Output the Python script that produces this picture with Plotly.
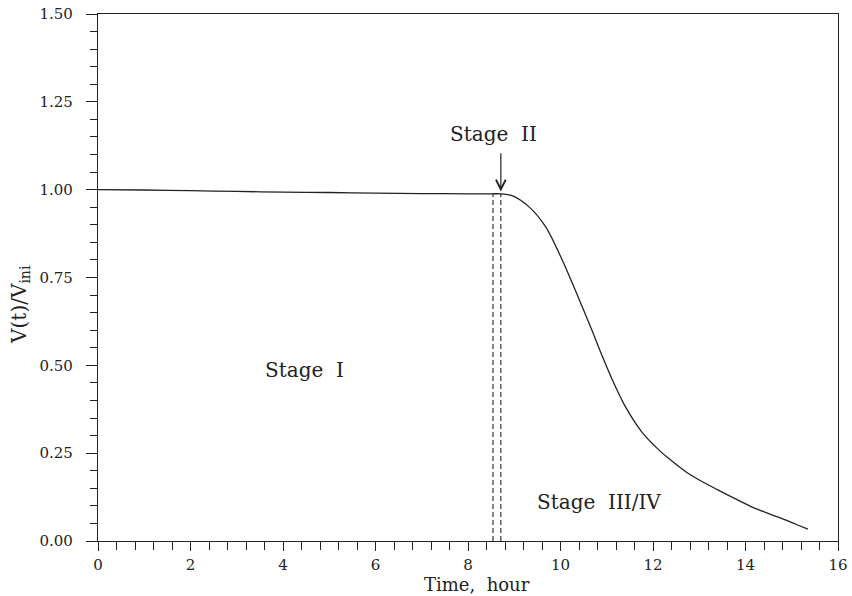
import plotly.graph_objects as go

# Normalised volume vs time
time_h = [0.0, 1.0, 2.0, 3.0, 4.0, 5.0, 6.0, 7.0, 8.0, 8.4, 8.7, 8.95, 9.32, 9.68,
          10.03, 10.39, 10.68, 10.90, 11.11, 11.40, 11.76, 12.12, 12.33, 12.70,
          13.05, 13.41, 13.75, 14.12, 14.5, 14.86, 15.1, 15.35]
v_ratio = [1.000, 0.999, 0.997, 0.995, 0.993, 0.992, 0.990, 0.989, 0.988, 0.988,
           0.988, 0.983, 0.951, 0.894, 0.802, 0.692, 0.600, 0.527, 0.462, 0.383,
           0.310, 0.260, 0.236, 0.198, 0.170, 0.145, 0.122, 0.098, 0.078, 0.060,
           0.047, 0.034]

# Stage boundaries (dashed markers)
stage_bounds = [8.54, 8.71]
stage_bound_top = 0.988

font_family = "DejaVu Serif, Liberation Serif, serif"
ink = "#222222"

fig = go.Figure()
fig.add_trace(go.Scatter(x=time_h, y=v_ratio, mode="lines",
                         line=dict(color=ink, width=1.3, shape="spline", smoothing=0.8),
                         showlegend=False, hoverinfo="skip"))
for xb in stage_bounds:
    fig.add_trace(go.Scatter(x=[xb, xb], y=[0, stage_bound_top], mode="lines",
                             line=dict(color=ink, width=1.1, dash="5px,3px"),
                             showlegend=False, hoverinfo="skip"))

axis_common = dict(
    showline=True, linecolor=ink, linewidth=1.2, mirror=True,
    ticks="outside", tickwidth=1, tickcolor=ink,
    showgrid=False, zeroline=False, automargin=False,
    tickfont=dict(family=font_family, size=15, color=ink),
)

fig.update_xaxes(range=[0, 16], tickvals=[0, 2, 4, 6, 8, 10, 12, 14, 16], ticklen=9,
                 minor=dict(dtick=0.4, tick0=0, ticks="outside", ticklen=8, tickcolor=ink, tickwidth=1),
                 ticklabelstandoff=1,
                 **axis_common)
fig.update_yaxes(range=[0, 1.5], tickvals=[0, 0.25, 0.5, 0.75, 1.0, 1.25, 1.5], tickformat=".2f",
                 ticklen=11,
                 minor=dict(dtick=0.05, tick0=0, ticks="outside", ticklen=7, tickcolor=ink, tickwidth=1),
                 ticklabelstandoff=10,
                 **axis_common)

plot_left, plot_right = 98, 838
plot_top, plot_bottom = 14, 541

annos = [
    dict(x=4.46, y=0.487, text="Stage  I", showarrow=False,
         font=dict(family=font_family, size=20, color=ink)),
    dict(x=8.56, y=1.158, text="Stage  II", showarrow=False,
         font=dict(family=font_family, size=20, color=ink)),
    dict(x=10.83, y=0.111, text="Stage  III/IV", showarrow=False,
         font=dict(family=font_family, size=20, color=ink)),
    dict(x=8.71, y=0.995, ax=8.71, ay=1.108, xref="x", yref="y", axref="x", ayref="y",
         text="", showarrow=True, arrowhead=5, arrowsize=1.6, arrowwidth=1.2, arrowcolor=ink),
    # y-axis title
    dict(x=(20 - plot_left) / (plot_right - plot_left), xref="paper", xanchor="center",
         y=0.672, yref="y", yanchor="middle",
         text="V(t)/V<sub>ini</sub>", textangle=-90, showarrow=False,
         font=dict(family=font_family, size=20, color=ink)),
    # x-axis title
    dict(x=8.2, xref="x", xanchor="center",
         y=-(584 - plot_bottom) / (plot_bottom - plot_top), yref="paper", yanchor="middle",
         text="Time,  hour", showarrow=False,
         font=dict(family=font_family, size=18, color=ink)),
]

fig.update_layout(
    width=852, height=596,
    margin=dict(l=plot_left, r=852 - plot_right, t=plot_top, b=596 - plot_bottom),
    paper_bgcolor="white", plot_bgcolor="white",
    annotations=annos,
)

fig.write_html("out.html")
